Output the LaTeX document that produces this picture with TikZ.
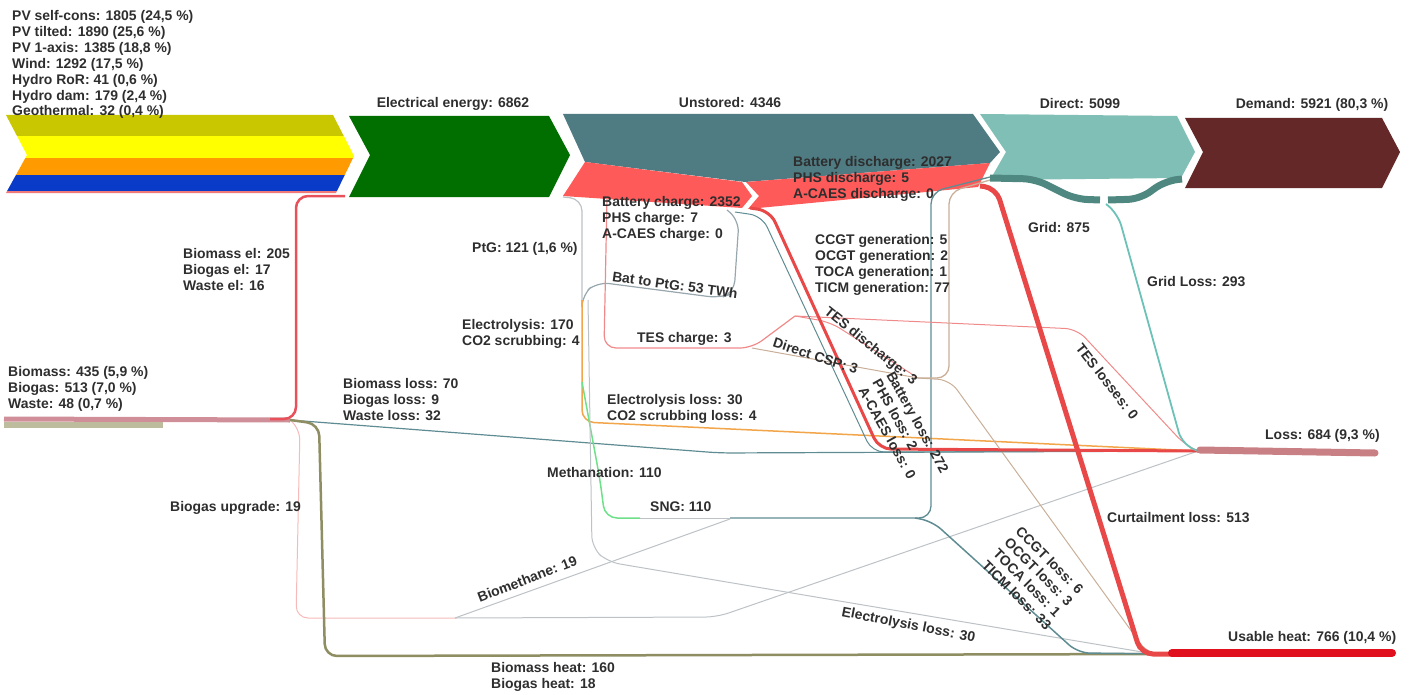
\documentclass[tikz,border=0pt]{standalone}
\usepackage{fontspec}
\setmainfont{Liberation Sans}
\usetikzlibrary{positioning}

\definecolor{pvself}{HTML}{C9C700}
\definecolor{pvtilt}{HTML}{FFFF00}
\definecolor{pvaxis}{HTML}{FF9A00}
\definecolor{wind}{HTML}{0A3BC8}
\definecolor{hydro}{HTML}{F07A7A}
\definecolor{elec}{HTML}{006F00}
\definecolor{unstored}{HTML}{4F7B82}
\definecolor{storage}{HTML}{FF5A5A}
\definecolor{direct}{HTML}{7FBFB6}
\definecolor{grid}{HTML}{4F8880}
\definecolor{demand}{HTML}{632827}
\definecolor{lossband}{HTML}{C98084}
\definecolor{heatband}{HTML}{E0101E}
\definecolor{biopink}{HTML}{CF8E98}
\definecolor{biotan}{HTML}{BDBD9E}
\definecolor{bioel}{HTML}{E8505A}
\definecolor{heatolive}{HTML}{8E8E62}
\definecolor{lossteal}{HTML}{5F8C92}
\definecolor{thingray}{HTML}{BCC2C6}
\definecolor{batgray}{HTML}{98A6AE}
\definecolor{tespink}{HTML}{F08A8A}
\definecolor{uppink}{HTML}{F6BABA}
\definecolor{csptan}{HTML}{C9AE98}
\definecolor{elyorange}{HTML}{F2A54A}
\definecolor{methgreen}{HTML}{6FE08A}
\definecolor{gridloss}{HTML}{6CC2B6}
\definecolor{curtail}{HTML}{E84848}
\definecolor{txt}{HTML}{2E2E2E}

\begin{document}
\begin{tikzpicture}[
    x = 1bp,
    y = -1bp,
    flow/.style = {rounded corners = 12bp, line width = #1},
    flow/.default = 1.2bp,
    lbl/.style = {
      text = txt,
      inner sep = 0pt,
      anchor = north west,
      align = left,
      font = \fontsize{14}{16}\selectfont\bfseries
    },
    ttl/.style = {lbl, anchor = north}
  ]
  \useasboundingbox (0,0) rectangle (1411,695);

  \coordinate (bio) at (290,420);
  \coordinate (loss) at (1198,451);
  \coordinate (heat) at (1172,654);
  \coordinate (tes) at (795,316);
  \coordinate (csp) at (918,378);
  \coordinate (sng) at (931,518);
  \coordinate (ptg) at (582,300);
  \coordinate (upg) at (455,618);

  % big bands
  \begin{scope}
    \clip (6,115) -- (333,115) -- (354,156) -- (336,193) -- (6,193) -- (27,155) -- cycle;
    \fill[pvself] (0,114) rectangle (360,136);
    \fill[pvtilt] (0,136) rectangle (360,158);
    \fill[pvaxis] (0,158) rectangle (360,175);
    \fill[wind]   (0,175) rectangle (360,191);
    \fill[hydro]  (0,191) rectangle (360,194);
  \end{scope}

  \fill[elec] (349,116) -- (549,116) -- (570,155) -- (549,197) -- (349,197) -- (370,155) -- cycle;
  \fill[unstored] (563,114) -- (973,114) -- (1000,152) -- (990,163) -- (745,182) -- (585,162) -- cycle;
  \fill[storage] (585,162) -- (742,182) -- (752,196) -- (742,208) -- (563,196) -- cycle;
  \fill[storage] (746,182) -- (990,163) -- (978,187) -- (748,209) -- (759,196) -- cycle;
  \fill[direct] (980,114) -- (1177,116) -- (1195,152) -- (1181,178) -- (990,180) -- (1006,152) -- cycle;
  \fill[demand] (1185,118) -- (1382,118) -- (1400,152) -- (1382,188) -- (1185,188) -- (1203,152) -- cycle;

  \draw[flow=7bp, grid] (990,178) -- (1035,179) -- (1075,199) -- (1100,200);
  \draw[flow=7bp, grid] (1108,200) -- (1140,199) -- (1165,181) -- (1182,179);

  % bioenergy
  \draw[line width=5bp, biopink] (4,419) -- (bio);
  \draw[line width=6bp, biotan] (4,425) -- (163,425);
  \draw[flow=2.5bp, bioel] (270,419) -- (296,419) -- (296,196) -- (345,196);
  \draw[flow, lossteal] (bio) -- (720,453) -- (loss);
  \draw[flow=1bp, uppink] (bio) -- (300,428) -- (296,618) -- (upg);
  \draw[flow=2.5bp, heatolive] (bio) -- (319,424) -- (325,656) -- (heat);
  \draw[flow=1bp, thingray] (upg) -- (717,617) -- (loss);
  \draw[flow=1bp, thingray] (upg) -- (730,519);

  % power to gas
  \draw[flow, thingray] (563,197) -- (582,199) -- (ptg);
  \draw[flow, batgray] (727,210) -- (739,220) -- (734,293) -- (720,298) -- (597,282) -- (582,295) -- (ptg);
  \draw[flow=1.5bp, elyorange] (ptg) -- (582,422) -- (loss);
  \draw[flow=1.5bp, methgreen] (582,382) -- (600,480) -- (605,518) -- (640,518);
  \draw[flow=1bp, thingray] (640,518) -- (730,518);
  \draw[flow=1.3bp, lossteal] (730,518) -- (sng) -- (931,192) -- (990,177);
  \draw[flow=1bp, thingray] (588,300) -- (592,548) -- (608,562) -- (1160,655) -- (heat);
  \draw[flow=1.5bp, lossteal] (915,518) -- (932,521) -- (1078,653) -- (heat);

  % thermal storage
  \draw[flow, tespink] (607,197) -- (604,348) -- (752,348) -- (tes);
  \draw[flow=1bp, tespink] (tes) -- (1077,329) -- (1185,445) -- (loss);
  \draw[flow=1bp, tespink] (tes) -- (830,322) -- (csp);
  \draw[flow=1bp, csptan] (752,348) -- (csp);
  \draw[flow=1.3bp, csptan] (csp) -- (949,378) -- (949,192) -- (990,180);
  \draw[flow=1bp, csptan] (csp) -- (950,380) -- (1148,654) -- (heat);

  % losses
  \draw[flow=1bp, lossteal] (735,212) -- (762,216) -- (872,452) -- (loss);
  \draw[flow=3bp, curtail] (750,208) -- (770,211) -- (879,449) -- (loss);
  \draw[flow=5bp, curtail] (980,186) -- (996,188) -- (1141,654) -- (heat);
  \draw[flow=1.8bp, gridloss] (1106,204) -- (1118,214) -- (1182,444) -- (loss);

  \draw[line width=7bp, lossband, line cap=round] (1200,450) -- (1375,453);
  \draw[line width=8bp, heatband, line cap=round] (1172,653) -- (1392,653);

  % labels
  \node[lbl] (lSrc) at (12,10) {PV self-cons: 1805 (24,5 \%)\\PV tilted: 1890 (25,6 \%)\\PV 1-axis: 1385 (18,8 \%)\\Wind: 1292 (17,5 \%)\\Hydro RoR: 41 (0,6 \%)\\Hydro dam: 179 (2,4 \%)\\Geothermal: 32 (0,4 \%)};
  \node[ttl] (lElec) at (453,97) {Electrical energy: 6862};
  \node[ttl] (lUnst) at (730,97) {Unstored: 4346};
  \node[ttl] (lDir) at (1080,98) {Direct: 5099};
  \node[ttl] (lDem) at (1312,98) {Demand: 5921 (80,3 \%)};

  \node[lbl] (lBioel) at (183,248) {Biomass el: 205\\Biogas el: 17\\Waste el: 16};
  \node[lbl] (lBio) at (8,366) {Biomass: 435 (5,9 \%)\\Biogas: 513 (7,0 \%)\\Waste: 48 (0,7 \%)};
  \node[lbl] (lBioloss) at (343,378) {Biomass loss: 70\\Biogas loss: 9\\Waste loss: 32};
  \node[lbl] (lUpg) at (170,501) {Biogas upgrade: 19};
  \node[lbl] (lBioheat) at (491,662) {Biomass heat: 160\\Biogas heat: 18};
  \node[lbl] (lPtg) at (472,242) {PtG: 121 (1,6 \%)};
  \node[lbl] (lCharge) at (602,196) {Battery charge: 2352\\PHS charge: 7\\A-CAES charge: 0};
  \node[lbl] (lDisch) at (793,156) {Battery discharge: 2027\\PHS discharge: 5\\A-CAES discharge: 0};
  \node[lbl] (lGen) at (815,234) {CCGT generation: 5\\OCGT generation: 2\\TOCA generation: 1\\TICM generation: 77};
  \node[lbl] (lGrid) at (1028,222) {Grid: 875};
  \node[lbl] (lGridloss) at (1147,276) {Grid Loss: 293};
  \node[lbl] (lEly) at (462,319) {Electrolysis: 170\\CO2 scrubbing: 4};
  \node[lbl] (lTes) at (637,332) {TES charge: 3};
  \node[lbl] (lElyloss) at (607,394) {Electrolysis loss: 30\\CO2 scrubbing loss: 4};
  \node[lbl] (lMeth) at (547,467) {Methanation: 110};
  \node[lbl] (lSng) at (650,502) {SNG: 110};
  \node[lbl] (lCurt) at (1107,512) {Curtailment loss: 513};
  \node[lbl] (lLoss) at (1265,429) {Loss: 684 (9,3 \%)};
  \node[lbl] (lHeat) at (1228,631) {Usable heat: 766 (10,4 \%)};

  \node[lbl, rotate=-8] (lBatptg) at (613,271) {Bat to PtG: 53 TWh};
  \node[lbl, rotate=-18] (lCsp) at (775,337) {Direct CSP: 3};
  \node[lbl, rotate=-39] (lTesdis) at (830,305) {TES discharge: 3};
  \node[lbl, rotate=-61] (lBatloss) at (895,370) {Battery loss: 272\\PHS loss: 2\\A-CAES loss: 0};
  \node[lbl, rotate=-52] (lTesloss) at (1083,342) {TES losses: 0};
  \node[lbl, rotate=-45] (lGenloss) at (1022,525) {CCGT loss: 6\\OCGT loss: 3\\TOCA loss: 1\\TICM loss: 33};
  \node[lbl, rotate=21] (lBiometh) at (476,593) {Biomethane: 19};
  \node[lbl, rotate=-11] (lElyheat) at (843,606) {Electrolysis loss: 30};
\end{tikzpicture}
\end{document}
